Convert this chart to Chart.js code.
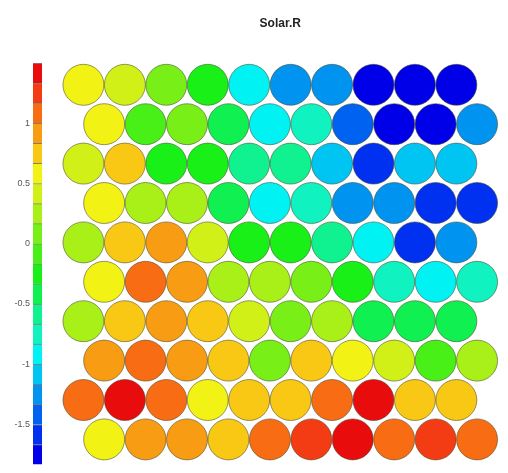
<!DOCTYPE html>
<html>
<head>
<meta charset="utf-8">
<title>Solar.R</title>
<script src="https://cdn.jsdelivr.net/npm/chart.js@4.4.1/dist/chart.umd.min.js"></script>
<style>
  html, body { margin: 0; padding: 0; background: #ffffff; overflow: hidden; width: 508px; height: 473px; }
  #mapBox { position: absolute; left: 0; top: 0; }
  #barBox { position: absolute; left: 0; top: 0; }
</style>
</head>
<body>
<div id="mapBox"><canvas id="mapCanvas" width="540" height="520"></canvas></div>
<div id="barBox"><canvas id="barCanvas" width="42" height="473"></canvas></div>
<script>
// Node values of the Solar.R component, one array per map row (top row first)
const row1  = [0.58, 0.42, 0.08, -0.25, -0.92, -1.25, -1.25, -1.75, -1.75, -1.75];
const row2  = [0.58, -0.08, 0.08, -0.42, -0.92, -0.75, -1.42, -1.75, -1.75, -1.25];
const row3  = [0.42, 0.75, -0.25, -0.25, -0.58, -0.58, -1.08, -1.58, -1.08, -1.08];
const row4  = [0.58, 0.25, 0.25, -0.42, -0.92, -0.75, -1.25, -1.25, -1.58, -1.58];
const row5  = [0.25, 0.75, 0.92, 0.42, -0.25, -0.25, -0.58, -0.92, -1.58, -1.25];
const row6  = [0.58, 1.08, 0.92, 0.25, 0.25, 0.08, -0.25, -0.75, -0.92, -0.75];
const row7  = [0.25, 0.75, 0.92, 0.75, 0.42, 0.08, 0.25, -0.42, -0.42, -0.42];
const row8  = [0.92, 1.08, 0.92, 0.75, 0.08, 0.75, 0.58, 0.42, -0.08, 0.25];
const row9  = [1.08, 1.42, 1.08, 0.58, 0.75, 0.75, 1.08, 1.42, 0.75, 0.75];
const row10 = [0.58, 0.92, 0.92, 0.75, 1.08, 1.25, 1.42, 1.08, 1.25, 1.08];
const mapRows = [row1, row2, row3, row4, row5, row6, row7, row8, row9, row10];

// Colour key: class breaks (low to high) and one colour per class
const colorBreaks = [-1.833, -1.667, -1.5, -1.333, -1.167, -1, -0.833, -0.667, -0.5, -0.333,
                     -0.167, 0, 0.167, 0.333, 0.5, 0.667, 0.833, 1, 1.167, 1.333, 1.5];
const classColors = ['#0000e8', '#0030f0', '#0062f0', '#0094f0', '#00c4f2', '#00f2f2',
                     '#10f2c0', '#10f290', '#10f050', '#18f018', '#48f018', '#78f018',
                     '#a8f018', '#d0f018', '#f2f214', '#f8c814', '#f89c14', '#f86c14',
                     '#f43c14', '#e80c0c'];
const colorbarTicks = [-1.5, -1, -0.5, 0, 0.5, 1];

const FONT = '"Liberation Sans", Arial, Helvetica, sans-serif';

function colorFor(v) {
  for (let i = 0; i < classColors.length; i++) {
    if (v < colorBreaks[i + 1]) return classColors[i];
  }
  return classColors[classColors.length - 1];
}

// Hexagonal layout: odd rows shift half a unit to the right
const points = [];
const fills = [];
mapRows.forEach((vals, r) => {
  vals.forEach((v, c) => {
    points.push({ x: c + (r % 2 ? 0.5 : 0), y: r, v: v });
    fills.push(colorFor(v));
  });
});

new Chart(document.getElementById('mapCanvas'), {
  type: 'scatter',
  data: {
    datasets: [{
      data: points,
      backgroundColor: fills,
      borderColor: 'rgba(70,70,40,0.55)',
      borderWidth: 1,
      pointRadius: 20.5,
      pointHoverRadius: 20.5,
      clip: false
    }]
  },
  options: {
    responsive: false,
    animation: false,
    events: [],
    layout: { padding: { left: 42, right: 3.5, top: 0, bottom: 7 } },
    plugins: {
      legend: { display: false },
      tooltip: { enabled: false },
      title: {
        display: true,
        text: 'Solar.R',
        fullSize: false,
        color: '#222222',
        font: { family: FONT, size: 12, weight: 'bold' },
        padding: { top: 16, bottom: 15 }
      }
    },
    scales: {
      x: { type: 'linear', min: -1, max: 10.5, display: false },
      y: { type: 'linear', min: -1, max: 10.5, reverse: true, display: false }
    }
  }
});

// Colour bar: one floating bar segment per class
const barSets = classColors.map((col, i) => ({
  data: [[colorBreaks[i], colorBreaks[i + 1]]],
  backgroundColor: col,
  borderColor: 'rgba(30,30,30,0.55)',
  borderWidth: { top: 1, bottom: 0, left: 0, right: 0 },
  borderSkipped: false,
  grouped: false,
  barPercentage: 1,
  categoryPercentage: 1
}));

new Chart(document.getElementById('barCanvas'), {
  type: 'bar',
  data: { labels: [''], datasets: barSets },
  options: {
    responsive: false,
    animation: false,
    events: [],
    layout: { padding: { left: 0, right: 0, top: 63, bottom: 0.5 } },
    plugins: { legend: { display: false }, tooltip: { enabled: false } },
    scales: {
      x: { display: false },
      y: {
        min: colorBreaks[0],
        max: colorBreaks[colorBreaks.length - 1],
        afterBuildTicks: s => { s.ticks = colorbarTicks.map(v => ({ value: v })); },
        afterFit: s => { s.width = 33; },
        grid: { display: false, drawTicks: false },
        border: { display: false },
        ticks: {
          padding: 3,
          color: '#555555',
          font: { family: FONT, size: 9 },
          callback: v => String(v)
        }
      }
    }
  }
});
</script>
</body>
</html>
